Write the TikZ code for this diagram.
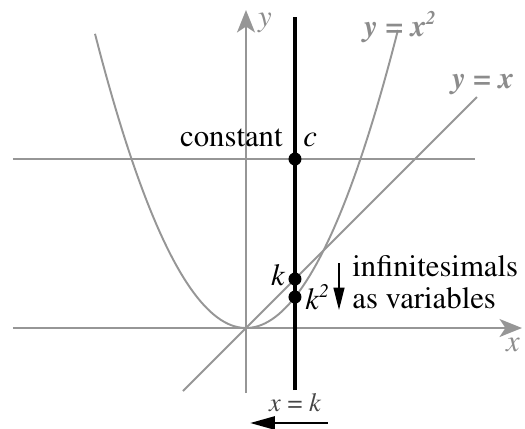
\documentclass[tikz,border=0pt]{standalone}
\usepackage[T1]{fontenc}
\usepackage{mathptmx}
\usepackage{tikz}
\usetikzlibrary{calc,positioning,arrows.meta}
\usepackage{xcolor}
\definecolor{axisgray}{RGB}{150,150,150}
\definecolor{labelgray}{RGB}{140,140,140}
\definecolor{darktext}{RGB}{70,70,70}
\newcommand{\sqsup}{\raisebox{0.85ex}{\fontsize{11}{11}\selectfont 2}}

\begin{document}
\begin{tikzpicture}[font=\rmfamily\fontsize{17.5}{17.6}\selectfont,
  axisline/.style={line width=1.1pt, axisgray},
  axisarrow/.style={axisline, -{Stealth[length=0.45cm, width=0.36cm, inset=0.12cm]}},
  kline/.style={line width=2pt, black},
  dotmark/.style={circle, fill=black, minimum size=0.26cm, inner sep=0pt},
  curvelabel/.style={labelgray, font=\rmfamily\fontsize{17.5}{20}\selectfont\bfseries\itshape, inner sep=0pt},
  txt/.style={inner sep=0pt}]
  \useasboundingbox (-4.92,-2.0) rectangle (5.58,6.56);

  % Axes
  \coordinate (xstart) at (-4.66,0);
  \coordinate (xend) at (5.52,0);
  \coordinate (ystart) at (0,-1.30);
  \coordinate (yend) at (0,6.36);
  \draw[axisarrow] (xstart) -- (xend);
  \draw[axisarrow] (ystart) -- (yend);
  \node[txt, labelgray, font=\rmfamily\fontsize{17.5}{20}\selectfont\itshape] (ylab) at (0.38,6.1) {y};
  \node[txt, labelgray, font=\rmfamily\fontsize{17.5}{20}\selectfont\itshape] (xlab) at (5.34,-0.34) {x};

  % Constant line
  \coordinate (cstart) at (-4.66,3.38);
  \coordinate (cend) at (4.58,3.38);
  \draw[axisline] (cstart) -- (cend);

  % Curves
  \coordinate (lstart) at (-1.26,-1.26);
  \coordinate (lend) at (4.62,4.62);
  \draw[axisline] (lstart) -- (lend);
  \draw[axisline] plot[domain=-3.02:3.04, samples=90] (\x, {\x*\x/1.55});
  \node[curvelabel] (sqlab) at (3.08,6.02) {y = x\sqsup};
  \node[curvelabel] (idlab) at (4.74,4.86) {y = x};

  % Line x = k
  \coordinate (ktop) at (0.98,6.22);
  \coordinate (kbot) at (0.98,-1.24);
  \draw[kline] (kbot) -- (ktop);
  \node[dotmark] (cdot) at (0.98,3.38) {};
  \node[dotmark] (kdot) at (0.98,0.98) {};
  \node[dotmark] (ksqdot) at (0.98,0.62) {};

  % Labels
  \node[txt, anchor=base east] (const) at (0.74,3.64) {constant};
  \node[txt, anchor=base west] (clab) at (1.14,3.64) {\itshape c};
  \node[txt] (klab) at (0.64,1.06) {\itshape k};
  \node[txt, anchor=west] (ksqlab) at (1.18,0.62) {\itshape k\sqsup};
  \node[txt, anchor=base west, align=left, font=\rmfamily\fontsize{17.5}{18}\selectfont] (infin) at (2.12,0.40)
    {infinitesimals\\as variables};
  \coordinate (dtop) at (1.86,1.3);
  \coordinate (dbot) at (1.86,0.36);
  \draw[line width=0.8pt, -{Triangle[length=0.45cm, width=0.22cm]}] (dtop) -- (dbot);

  \node[txt, darktext, font=\rmfamily\fontsize{15}{18}\selectfont] (xk) at (0.98,-1.5)
    {\itshape x\/ \upshape= \itshape k};
  \coordinate (astart) at (1.64,-1.9);
  \coordinate (aend) at (0.08,-1.9);
  \draw[line width=1.6pt, -{Triangle[length=0.5cm, width=0.26cm]}] (astart) -- (aend);
\end{tikzpicture}
\end{document}
